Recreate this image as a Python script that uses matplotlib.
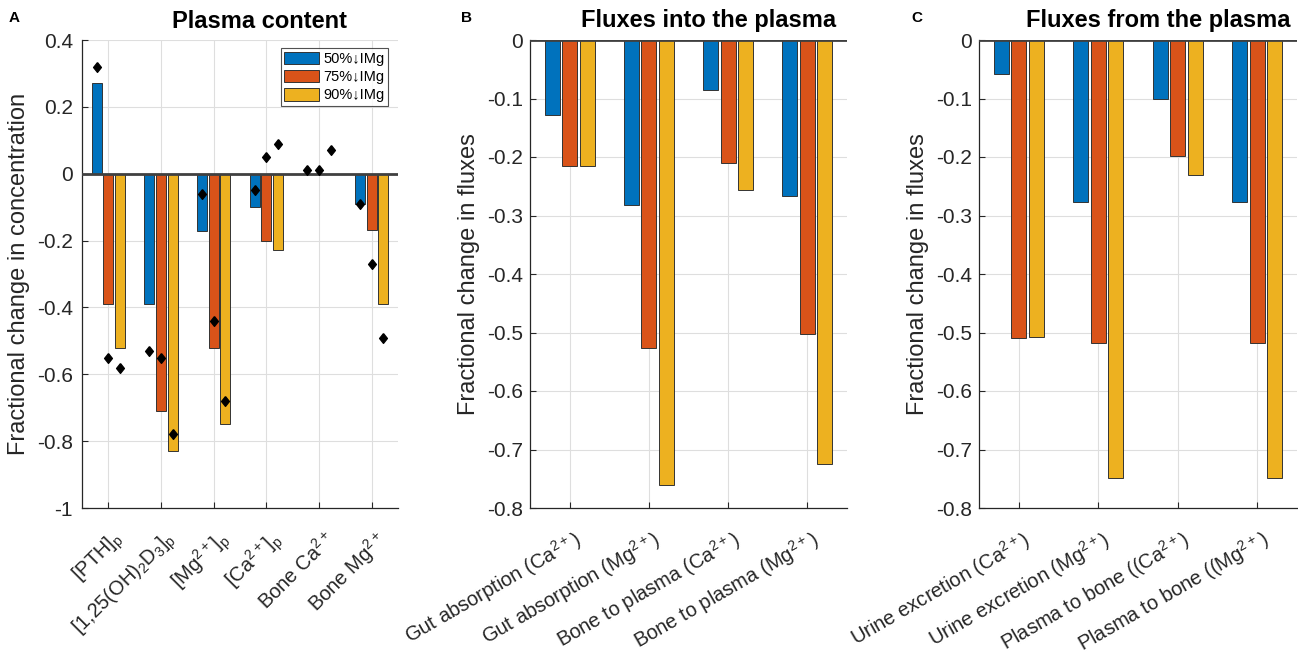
import numpy as np
import matplotlib
matplotlib.use("Agg")
import matplotlib.pyplot as plt
from matplotlib.transforms import ScaledTranslation

plt.rcParams['font.family'] = ['Liberation Sans', 'DejaVu Sans']
plt.rcParams['mathtext.default'] = 'regular'
plt.rcParams['axes.unicode_minus'] = False

# ---------------- data ----------------
series_names = ['50%↓IMg', '75%↓IMg', '90%↓IMg']
colors = ['#0072BD', '#D95319', '#EDB120']

a_categories = ['[PTH]$_p$', '[1,25(OH)$_2$D$_3$]$_p$', '[Mg$^{2+}$]$_p$',
                '[Ca$^{2+}$]$_p$', 'Bone Ca$^{2+}$', 'Bone Mg$^{2+}$']
a_50 = [0.27, -0.39, -0.17, -0.10, 0.0, -0.09]
a_75 = [-0.39, -0.71, -0.52, -0.20, 0.0, -0.168]
a_90 = [-0.52, -0.83, -0.75, -0.229, 0.0, -0.39]
# experimental data (diamonds)
d_50 = [0.32, -0.53, -0.06, -0.05, 0.01, -0.09]
d_75 = [-0.55, -0.55, -0.44, 0.05, 0.01, -0.27]
d_90 = [-0.58, -0.78, -0.68, 0.09, 0.07, -0.49]

b_categories = ['Gut absorption (Ca$^{2+}$)', 'Gut absorption (Mg$^{2+}$)',
                'Bone to plasma (Ca$^{2+}$)', 'Bone to plasma (Mg$^{2+}$)']
b_50 = [-0.128, -0.282, -0.085, -0.267]
b_75 = [-0.215, -0.526, -0.211, -0.503]
b_90 = [-0.216, -0.761, -0.257, -0.725]

c_categories = ['Urine excretion (Ca$^{2+}$)', 'Urine excretion (Mg$^{2+}$)',
                'Plasma to bone ((Ca$^{2+}$)', 'Plasma to bone ((Mg$^{2+}$)']
c_50 = [-0.058, -0.277, -0.101, -0.277]
c_75 = [-0.510, -0.518, -0.198, -0.518]
c_90 = [-0.507, -0.748, -0.230, -0.748]

a_yticks = [0.4, 0.2, 0, -0.2, -0.4, -0.6, -0.8, -1]
a_yticklabels = ['0.4', '0.2', '0', '-0.2', '-0.4', '-0.6', '-0.8', '-1']
bc_yticks = [0, -0.1, -0.2, -0.3, -0.4, -0.5, -0.6, -0.7, -0.8]
bc_yticklabels = ['0', '-0.1', '-0.2', '-0.3', '-0.4', '-0.5', '-0.6', '-0.7', '-0.8']

# ---------------- figure ----------------
W, H = 1298, 653
fig = plt.figure(figsize=(W / 100, H / 100), dpi=100)

def px_axes(l, r, t, b):
    return fig.add_axes([l / W, 1 - b / H, (r - l) / W, (b - t) / H])

axA = px_axes(82, 398, 40, 508)
axB = px_axes(530, 847, 40, 508)
axC = px_axes(979, 1297, 40, 508)

offset = 0.222
width = 0.19
XTICK_FS = 14.5
YTICK_FS = 15
LABEL_FS = 17
TITLE_FS = 17

def style(ax, cats, yticks, yticklabels, ylim, ylabel, title, letter, letter_x,
          rot, xpad_px, xshift_px, ypad):
    n = len(cats)
    x = np.arange(1, n + 1)
    ax.set_xlim(0.5, n + 0.5)
    ax.set_ylim(*ylim)
    ax.set_xticks(x)
    ax.set_xticklabels(cats, rotation=rot, ha='right', va='center',
                       rotation_mode='anchor', fontsize=XTICK_FS, color='#262626')
    ax.set_yticks(yticks)
    ax.set_yticklabels(yticklabels, fontsize=YTICK_FS, color='#262626')
    ax.grid(True, color='#dedede', lw=0.8)
    ax.set_axisbelow(True)
    for s in ['top', 'right']:
        ax.spines[s].set_visible(False)
    for s in ['left', 'bottom']:
        ax.spines[s].set_color('#262626')
        ax.spines[s].set_linewidth(0.9)
    ax.tick_params(direction='in', length=4, width=0.8, color='#262626')
    ax.tick_params(axis='y', pad=ypad)
    ax.tick_params(axis='x', pad=xpad_px * 0.72)
    shift = ScaledTranslation(xshift_px / 100, 0, fig.dpi_scale_trans)
    for lab in ax.get_xticklabels():
        lab.set_transform(lab.get_transform() + shift)
    ax.axhline(0, color='#404040', lw=2.0, zorder=4)
    ax.set_ylabel(ylabel, fontsize=LABEL_FS, color='#262626', labelpad=5)
    ax.set_title(title, fontsize=TITLE_FS, fontweight='bold', x=0.5 + 20 / 317,
                 pad=9)
    fig.text(letter_x / W, 1 - 18 / H, letter, fontsize=11, fontweight='bold',
             ha='left', va='center')

def bars(ax, s50, s75, s90):
    x = np.arange(1, len(s50) + 1)
    handles = []
    for k, vals in enumerate([s50, s75, s90]):
        h = ax.bar(x + (k - 1) * offset, vals, width=width, color=colors[k],
                   edgecolor='#333333', linewidth=0.7, zorder=3,
                   label=series_names[k])
        handles.append(h)
    return handles

diamond = [(0, 1), (0.8, 0), (0, -1), (-0.8, 0), (0, 1)]

hA = bars(axA, a_50, a_75, a_90)
xA = np.arange(1, len(a_categories) + 1)
for k, dv in enumerate([d_50, d_75, d_90]):
    axA.plot(xA + (k - 1) * offset, dv, linestyle='none', marker=diamond,
             color='black', markersize=7, zorder=5)
style(axA, a_categories, a_yticks, a_yticklabels, (-1, 0.4),
      'Fractional change in concentration', 'Plasma content', 'A', 9,
      45, 28, 12, 6.5)
leg = axA.legend(handles=hA, loc='upper right', bbox_to_anchor=(0.968, 0.982),
                 fontsize=10.5, frameon=True, fancybox=False, handlelength=2.4,
                 handleheight=0.9, handletextpad=0.25, labelspacing=0.28,
                 borderpad=0.25, borderaxespad=0)
leg.get_frame().set_edgecolor('#262626')
leg.get_frame().set_linewidth(0.8)

bars(axB, b_50, b_75, b_90)
style(axB, b_categories, bc_yticks, bc_yticklabels, (-0.8, 0),
      'Fractional change in fluxes', 'Fluxes into the plasma', 'B', 461,
      30, 30, 10, 5)

bars(axC, c_50, c_75, c_90)
style(axC, c_categories, bc_yticks, bc_yticklabels, (-0.8, 0),
      'Fractional change in fluxes', 'Fluxes from the plasma', 'C', 911,
      30, 30, 10, 5)

fig.savefig('out.png', dpi=100)
